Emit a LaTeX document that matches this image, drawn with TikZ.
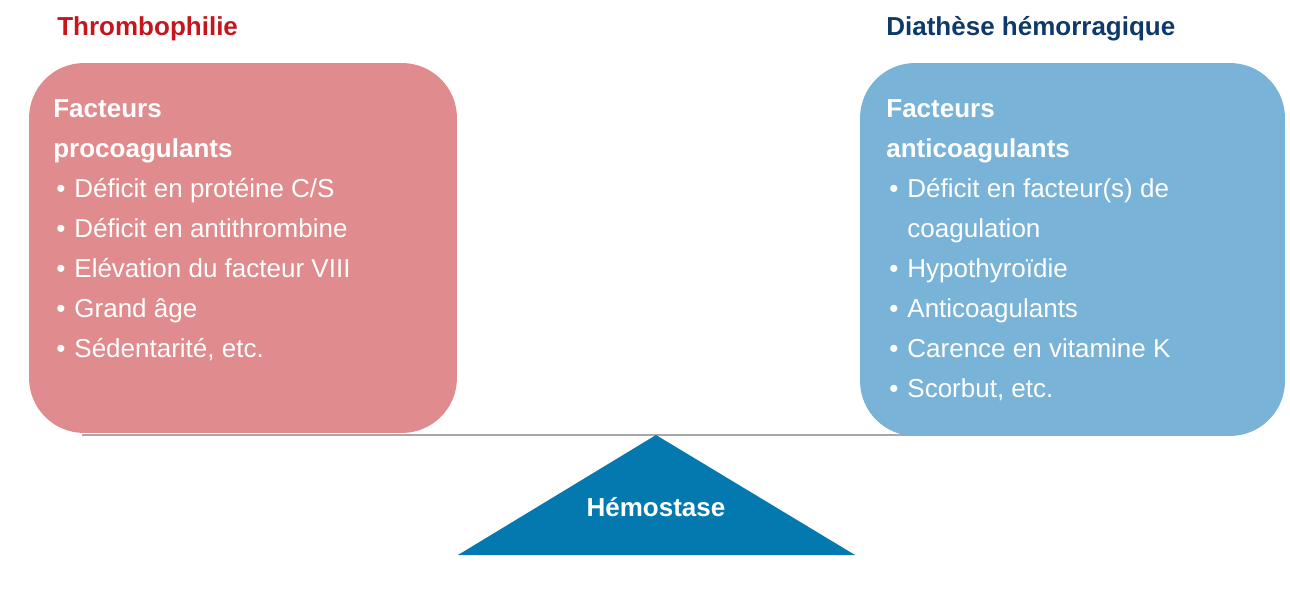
\documentclass[tikz,border=0pt]{standalone}
\usepackage{fontspec}
\setmainfont{Liberation Sans}
\definecolor{procofill}{HTML}{E08B8D}
\definecolor{anticofill}{HTML}{79B3D8}
\definecolor{hemofill}{HTML}{0379AF}
\definecolor{thromored}{HTML}{C4161C}
\definecolor{diathnavy}{HTML}{0D3A68}
\definecolor{beamgray}{HTML}{A7A7A7}
\tikzstyle{factbox} = [rectangle, rounded corners=1.1cm, inner sep=0pt, draw=none, minimum width=8.56cm]
\tikzstyle{title} = [anchor=base west, inner sep=0pt, font=\fontsize{14.8}{17}\selectfont\bfseries]
\tikzstyle{factlist} = [anchor=north west, inner sep=0pt, align=left, text=white, font=\fontsize{14.8}{22.76}\selectfont]
\tikzstyle{beam} = [draw=beamgray, line width=0.8pt]
\newcommand{\puce}{\makebox[12pt][l]{\hspace{1.7pt}•}}
\newcommand{\retrait}{\hspace*{12pt}}

\begin{document}
\begin{tikzpicture}[x=0.02cm, y=-0.02cm]
    \useasboundingbox (0,0) rectangle (1290,590);

    % balance
    \coordinate (beamstart) at (82,435);
    \coordinate (beamend) at (1000,435);
    \draw [beam] (beamstart) -- (beamend);
    \coordinate (apex) at (656,435);
    \coordinate (baseright) at (855,555);
    \coordinate (baseleft) at (458,555);
    \fill [hemofill] (apex) -- (baseright) -- (baseleft) -- cycle;
    \node (hemostase) [anchor=base, inner sep=0pt, text=white, font=\fontsize{14.8}{17}\selectfont\bfseries] at (656,517) {Hémostase};

    % plateaux
    \node (procobox) [factbox, fill=procofill, minimum height=7.4cm] at (243,248) {};
    \node (anticobox) [factbox, fill=anticofill, minimum width=8.5cm, minimum height=7.46cm] at (1072.5,249.5) {};

    \node (thrombo) [title, text=thromored] at (57,36) {Thrombophilie};
    \node (diathese) [title, text=diathnavy] at (886,36) {Diathèse hémorragique};

    \node (procolist) [factlist] at (53,89) {\strut\textbf{Facteurs}\\
        \textbf{procoagulants}\\
        \puce Déficit en protéine C/S\\
        \puce Déficit en antithrombine\\
        \puce Elévation du facteur VIII\\
        \puce Grand âge\\
        \puce Sédentarité, etc.};
    \node (anticolist) [factlist] at (886,89) {\strut\textbf{Facteurs}\\
        \textbf{anticoagulants}\\
        \puce Déficit en facteur(s) de\\
        \retrait coagulation\\
        \puce Hypothyroïdie\\
        \puce Anticoagulants\\
        \puce Carence en vitamine K\\
        \puce Scorbut, etc.};

\end{tikzpicture}
\end{document}
